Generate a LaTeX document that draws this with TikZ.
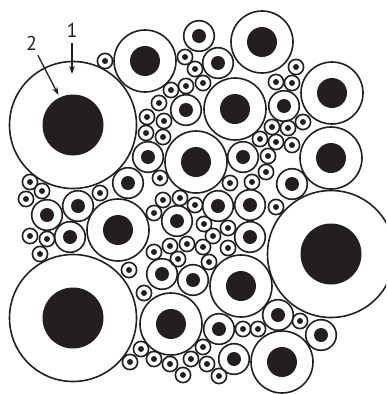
\documentclass[tikz,border=0pt]{standalone}
\usepackage{fontspec}
\setsansfont{PT Sans}
\usetikzlibrary{arrows.meta}
\definecolor{ink}{HTML}{231F20}
\begin{document}
\begin{tikzpicture}[x=1pt,y=-1pt,
  ringline/.style={draw=ink,line width=1.6pt},
  core/.style={fill=ink},
  lbl/.style={font=\sffamily\fontsize{20}{20}\selectfont,text=ink,inner sep=0.5pt},
  pointer/.style={draw=ink,line width=1.3pt,shorten <=5pt,-{Stealth[length=8pt,width=5.5pt]}}]
\useasboundingbox (0,0) rectangle (386,394);
\clip (0,0) rectangle (386,394);
% large
\foreach \x/\y in {73/125,73/318,331/254}{
  \draw[ringline] (\x,\y) circle (63.5pt);
  \fill[core] (\x,\y) circle (30.5pt);
}
% medium
\foreach \x/\y in {145/61,262/42,332/93,235/109,196/162,331/158,118/230,241/286,171/324,282/362}{
  \draw[ringline] (\x,\y) circle (31pt);
  \fill[core] (\x,\y) circle (15pt);
}
% small
\foreach \x/\y in {199/36,218/63,186/110,284/106,148/157,243/157,128/183,292/184,47/215,78/206,70/237,218/206,250/205,177/221,250/237,162/274,193/280,219/329,234/359,278/315,321/335}{
  \draw[ringline] (\x,\y) circle (15.3pt);
  \fill[core] (\x,\y) circle (7pt);
}
% tiny
\foreach \x/\y in {105/61,185/57,195/69,203/83,186/86,171/90,159/103,164/121,147/117,146/133,163/137,
  296/67,276/82,292/83,303/122,272/127,288/128,260/139,276/142,292/145,268/156,266/172,252/182,276/207,
  30/182,42/191,26/199,100/193,30/236,47/239,40/254,
  160/178,230/183,163/200,180/198,195/205,154/213,204/224,228/228,213/236,154/252,170/246,187/244,203/247,228/248,178/259,209/262,
  129/270,144/293,243/329,258/329,300/321,
  141/349,130/362,154/359,170/364,183/375,191/359,203/347,207/364,219/376}{
  \draw[ringline] (\x,\y) circle (7.6pt);
  \fill[core] (\x,\y) circle (3pt);
}
% labels
\node[lbl] (l1) at (72,30) {1};
\node[lbl] (l2) at (31.5,43) {2};
\coordinate (t1) at (72,74);
\coordinate (t2) at (58.5,95);
\draw[pointer] (l1) -- (t1);
\draw[pointer] (l2) -- (t2);
\end{tikzpicture}
\end{document}
